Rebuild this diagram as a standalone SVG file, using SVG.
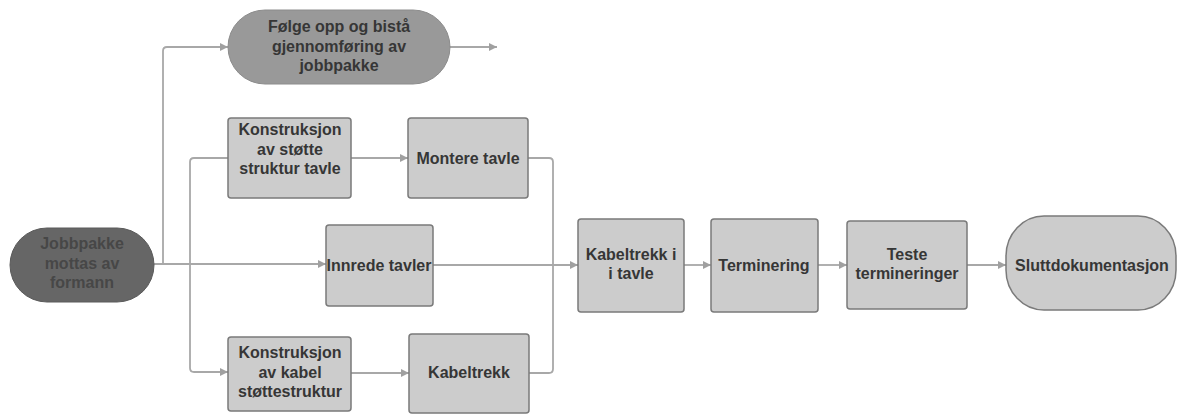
<svg xmlns="http://www.w3.org/2000/svg" width="1181" height="415" viewBox="0 0 1181 415">
  <defs>
    <marker id="arrow" viewBox="0 0 10 10" refX="10" refY="5" markerWidth="10" markerHeight="8" markerUnits="userSpaceOnUse" orient="auto">
      <path d="M0,0 L10,5 L0,10 z" fill="#a0a0a0"/>
    </marker>
    <style>
      .box { fill: #cccccc; stroke: #7a7a7a; stroke-width: 1.5; }
      .start { fill: #666666; stroke: #5a5a5a; stroke-width: 1; }
      .follow { fill: #999999; stroke: #8c8c8c; stroke-width: 1; }
      .edge { fill: none; stroke: #a8a8a8; stroke-width: 1.8; }
      .label { font-family: "Liberation Sans", Arial, sans-serif; font-weight: bold; font-size: 16px; fill: #363636; text-anchor: middle; }
      .dim { fill: #474747; }
    </style>
  </defs>

  <g id="connectors">
    <!-- start node fans out -->
    <path class="edge" d="M154,264 H326" marker-end="url(#arrow)"/>
    <path class="edge" d="M163,264 V51 Q163,47 167,47 H228" marker-end="url(#arrow)"/>
    <path class="edge" d="M450,47 H497" marker-end="url(#arrow)"/>
    <path class="edge" d="M228,158 H194 Q190,158 190,162 V368 Q190,372 194,372 H228" marker-end="url(#arrow)"/>
    <path class="edge" d="M351,158 H408" marker-end="url(#arrow)"/>
    <path class="edge" d="M351,373 H409" marker-end="url(#arrow)"/>
    <!-- branches merge into cable pulling in panel -->
    <path class="edge" d="M528,158 H549 Q553,158 553,162 V369 Q553,373 549,373 H529"/>
    <path class="edge" d="M433,265 H578" marker-end="url(#arrow)"/>
    <path class="edge" d="M684,265 H711" marker-end="url(#arrow)"/>
    <path class="edge" d="M818,265 H847" marker-end="url(#arrow)"/>
    <path class="edge" d="M967,265 H1006" marker-end="url(#arrow)"/>
  </g>

  <g id="node-jobbpakke">
    <rect class="start" x="10" y="228" width="144" height="74" rx="37"/>
    <text class="label dim" x="82" y="249">Jobbpakke</text>
    <text class="label dim" x="82" y="269">mottas av</text>
    <text class="label dim" x="82" y="288">formann</text>
  </g>

  <g id="node-folge-opp">
    <rect class="follow" x="228" y="10" width="222" height="74" rx="37"/>
    <text class="label" x="339" y="32">Følge opp og bistå</text>
    <text class="label" x="339" y="52">gjennomføring av</text>
    <text class="label" x="339" y="71">jobbpakke</text>
  </g>

  <g id="node-konstruksjon-tavle">
    <rect class="box" x="228" y="118" width="123" height="80" rx="3"/>
    <text class="label" x="290" y="135">Konstruksjon</text>
    <text class="label" x="290" y="155">av støtte</text>
    <text class="label" x="290" y="174">struktur tavle</text>
  </g>

  <g id="node-montere-tavle">
    <rect class="box" x="408" y="118" width="120" height="80" rx="3"/>
    <text class="label" x="468" y="164">Montere tavle</text>
  </g>

  <g id="node-innrede-tavler">
    <rect class="box" x="326" y="225" width="107" height="81" rx="3"/>
    <text class="label" x="379" y="271">Innrede tavler</text>
  </g>

  <g id="node-konstruksjon-kabel">
    <rect class="box" x="228" y="337" width="123" height="74" rx="3"/>
    <text class="label" x="290" y="358">Konstruksjon</text>
    <text class="label" x="290" y="378">av kabel</text>
    <text class="label" x="290" y="397">støttestruktur</text>
  </g>

  <g id="node-kabeltrekk">
    <rect class="box" x="409" y="334" width="120" height="79" rx="3"/>
    <text class="label" x="469" y="378">Kabeltrekk</text>
  </g>

  <g id="node-kabeltrekk-tavle">
    <rect class="box" x="578" y="219" width="106" height="93" rx="3"/>
    <text class="label" x="631" y="260">Kabeltrekk i</text>
    <text class="label" x="631" y="279">i tavle</text>
  </g>

  <g id="node-terminering">
    <rect class="box" x="711" y="219" width="107" height="93" rx="3"/>
    <text class="label" x="764" y="271">Terminering</text>
  </g>

  <g id="node-teste">
    <rect class="box" x="847" y="221" width="120" height="88" rx="3"/>
    <text class="label" x="907" y="260">Teste</text>
    <text class="label" x="907" y="279">termineringer</text>
  </g>

  <g id="node-sluttdokumentasjon">
    <rect class="box" x="1006" y="216" width="170" height="94" rx="38" ry="40"/>
    <text class="label" x="1092" y="271">Sluttdokumentasjon</text>
  </g>
</svg>
